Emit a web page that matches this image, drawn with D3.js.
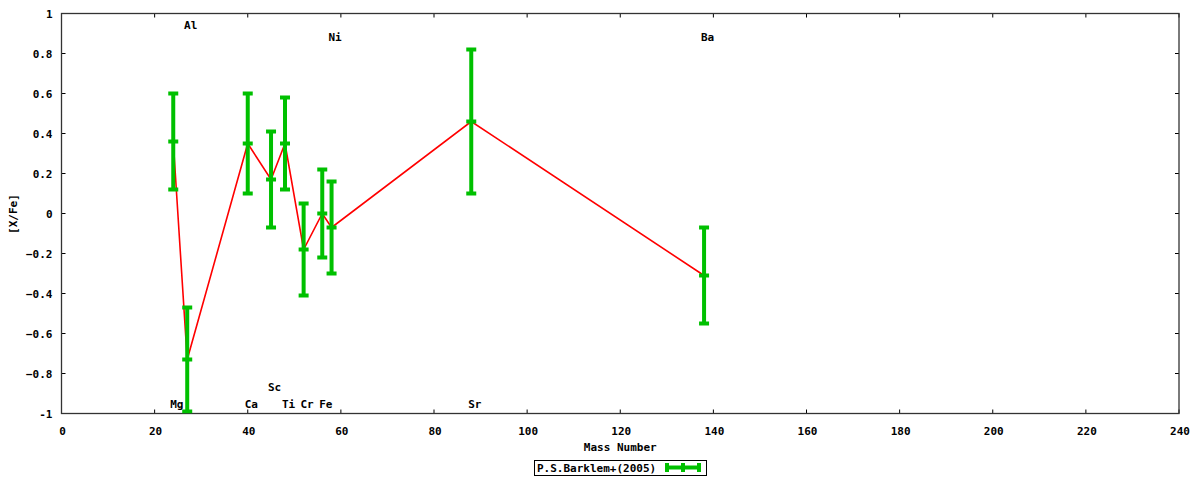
<!DOCTYPE html>
<html><head><meta charset="utf-8">
<script src="https://cdn.jsdelivr.net/npm/d3@7"></script>
<style>body{margin:0;background:#fff}svg{display:block}text{font-family:"DejaVu Sans Mono",monospace;font-weight:bold;font-size:11px;fill:#000}</style>
</head><body>
<svg id="c" width="1200" height="480"></svg>
<script>
const elements = ["Mg","Al","Ca","Sc","Ti","Cr","Fe","Ni","Sr","Ba"];
const massNumbers = [24,27,40,45,48,52,56,58,88,138];
const xfe = [0.36,-0.73,0.35,0.17,0.35,-0.18,0.0,-0.07,0.46,-0.31];
const errs = [0.24,0.26,0.25,0.24,0.23,0.23,0.22,0.23,0.36,0.24];
const labelY = [-0.955,0.94,-0.955,-0.87,-0.955,-0.955,-0.955,0.88,-0.955,0.88];
const xTicks = [0,20,40,60,80,100,120,140,160,180,200,220,240];
const yTicks = [-1,-0.8,-0.6,-0.4,-0.2,0,0.2,0.4,0.6,0.8,1];
const seriesName = "P.S.Barklem+(2005)";

const svg = d3.select("#c");
const L=61.5,R=1179,T=13.5,B=413.5;
const x = d3.scaleLinear().domain([0,240]).range([L,R]);
const y = d3.scaleLinear().domain([-1,1]).range([B,T]);
const green="#00c000", red="#ff0000";
const fmt = v => v===0?"0":(Math.abs(v)===1?String(v):d3.format(".1f")(v));

const g = svg.append("g");
xTicks.forEach(t=>{
  g.append("line").attr("x1",x(t)).attr("x2",x(t)).attr("y1",B).attr("y2",B-4).attr("stroke","#000");
  g.append("line").attr("x1",x(t)).attr("x2",x(t)).attr("y1",T).attr("y2",T+4).attr("stroke","#000");
  g.append("text").attr("x",x(t)+1).attr("y",B+21).attr("text-anchor","middle").text(t);
});
yTicks.forEach(t=>{
  g.append("line").attr("x1",L).attr("x2",L+4).attr("y1",y(t)).attr("y2",y(t)).attr("stroke","#000");
  g.append("line").attr("x1",R).attr("x2",R-4).attr("y1",y(t)).attr("y2",y(t)).attr("stroke","#000");
  g.append("text").attr("x",L-9).attr("y",y(t)+4).attr("text-anchor","end").text(fmt(t));
});
svg.append("rect").attr("x",L).attr("y",T).attr("width",R-L).attr("height",B-T)
  .attr("fill","none").attr("stroke","#333").attr("stroke-width",1.3);

svg.append("text").attr("x",(L+R)/2).attr("y",451).attr("text-anchor","middle").text("Mass Number");
svg.append("text").attr("transform","translate(17,214) rotate(-90)").attr("text-anchor","middle").text("[X/Fe]");

svg.append("clipPath").attr("id","pc").append("rect").attr("x",L).attr("y",T).attr("width",R-L).attr("height",B-T);
const plot = svg.append("g").attr("clip-path","url(#pc)");

const pts = massNumbers.map((m,i)=>({m,v:xfe[i],e:errs[i]}));
plot.append("path").datum(pts).attr("d",d3.line().x(d=>x(d.m)).y(d=>y(d.v)))
  .attr("fill","none").attr("stroke",red).attr("stroke-width",1.6);

function errbar(sel, cx, ylo, yhi, ymid){
  sel.append("line").attr("x1",cx).attr("x2",cx).attr("y1",ylo).attr("y2",yhi).attr("stroke",green).attr("stroke-width",4);
  [ylo,yhi,ymid].forEach(yy=>sel.append("line").attr("x1",cx-5).attr("x2",cx+5).attr("y1",yy).attr("y2",yy).attr("stroke",green).attr("stroke-width",4));
}
pts.forEach(d=>errbar(plot, x(d.m), y(d.v-d.e), y(d.v+d.e), y(d.v)));

elements.forEach((el,i)=>{
  svg.append("text").attr("x",x(massNumbers[i])+3.5).attr("y",y(labelY[i])+3).attr("text-anchor","middle").text(el);
});

svg.append("rect").attr("x",534.5).attr("y",460.5).attr("width",172).attr("height",15).attr("fill","#fff").attr("stroke","#000");
svg.append("text").attr("x",537).attr("y",472).text(seriesName);
const lg = svg.append("g");
lg.append("line").attr("x1",667).attr("x2",699).attr("y1",467.5).attr("y2",467.5).attr("stroke",green).attr("stroke-width",4);
[667,683,699].forEach(xx=>lg.append("line").attr("x1",xx).attr("x2",xx).attr("y1",463).attr("y2",472).attr("stroke",green).attr("stroke-width",4));
</script>
</body></html>
